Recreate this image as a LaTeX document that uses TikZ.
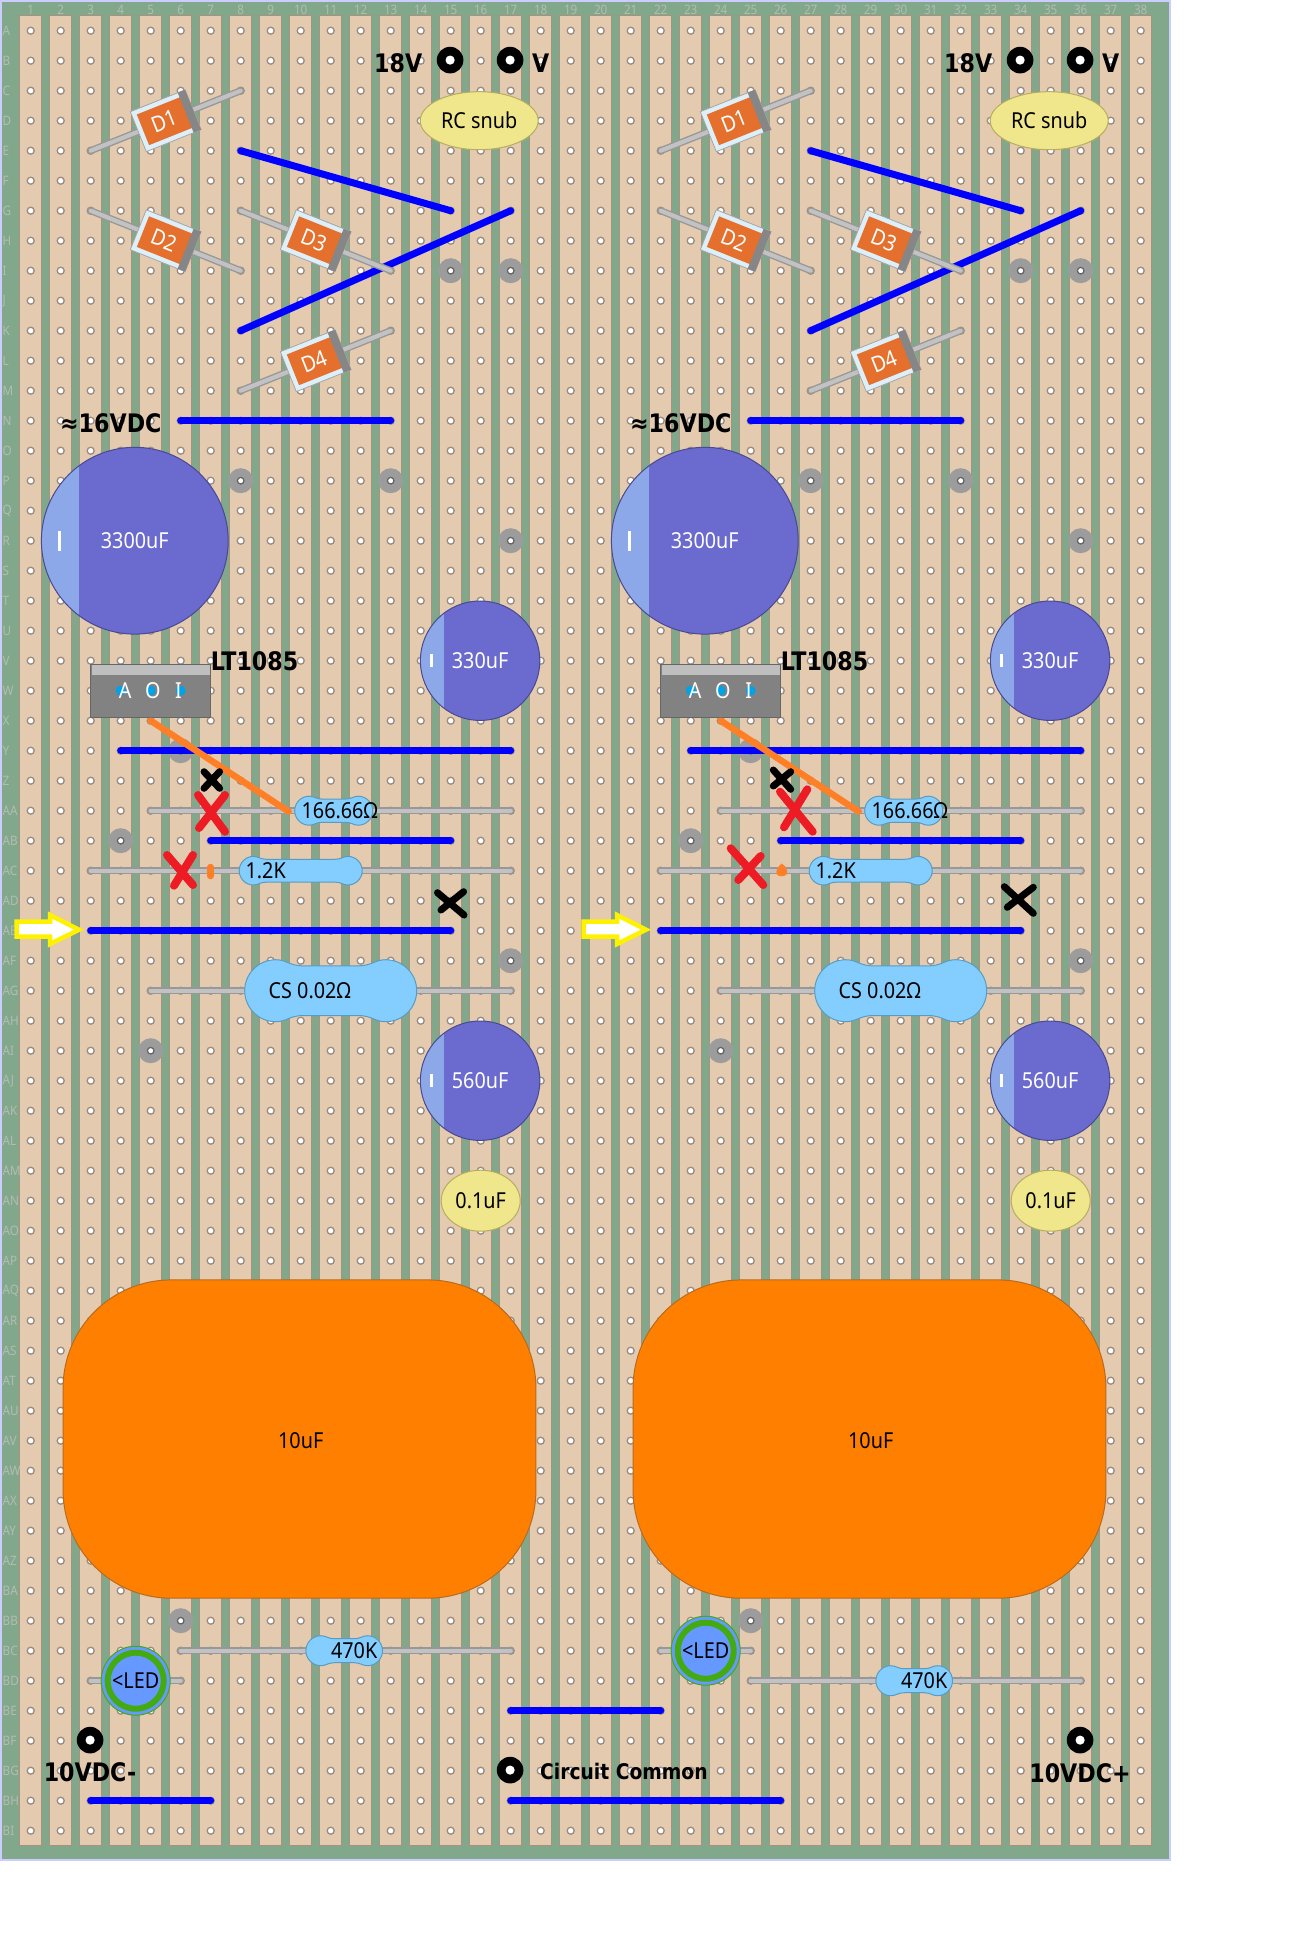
\documentclass[tikz,border=0pt]{standalone}
\usepackage{fontspec}
\usetikzlibrary{shapes.geometric}
\setmainfont[FakeStretch=0.9]{Noto Sans}
\newfontfamily\boldface[FakeStretch=0.87]{DejaVu Sans Bold}
\definecolor{boardgreen}{HTML}{82A88C}
\definecolor{stripfill}{HTML}{E4CAAF}
\definecolor{stripline}{HTML}{A8917E}
\definecolor{holeline}{HTML}{9C8B7E}
\definecolor{labelgrey}{HTML}{B2BDB2}
\definecolor{leadout}{HTML}{989898}
\definecolor{leadin}{HTML}{C2C2C2}
\definecolor{wireblue}{HTML}{0000FF}
\definecolor{wireorange}{HTML}{FF7F27}
\definecolor{xred}{HTML}{ED1C24}
\definecolor{dorange}{HTML}{E5702D}
\definecolor{dframe}{HTML}{DDF0FA}
\definecolor{capmain}{HTML}{6A6ACF}
\definecolor{caplight}{HTML}{8CA8E8}
\definecolor{capline}{HTML}{4A4A90}
\definecolor{resfill}{HTML}{84CDFF}
\definecolor{resline}{HTML}{5A9CBF}
\definecolor{snubfill}{HTML}{F0E68C}
\definecolor{snubline}{HTML}{B5AE60}
\definecolor{bigorange}{HTML}{FF8000}
\definecolor{bigline}{HTML}{B86A20}
\definecolor{ledblue}{HTML}{6699FF}
\definecolor{ledgreen}{HTML}{44AA11}
\definecolor{pincolor}{HTML}{00A2E8}
\tikzset{
  grid/.style={x=30pt,y=-30pt,shift={(0.7pt,-0.7pt)}},
  hole/.style={fill=white,draw=holeline,line width=1.3pt},
  wire/.style={draw=wireblue,line width=7pt,line cap=round},
  owire/.style={draw=wireorange,line width=6.5pt,line cap=round},
  lead/.style={draw=leadout,line width=7pt,line cap=round,postaction={draw=leadin,line width=4.2pt}},
  txt/.style={inner sep=0pt,font=\fontsize{22}{26}\selectfont},
  wtxt/.style={txt,text=white},
  btxt/.style={inner sep=0pt,font=\fontsize{25.5}{30}\boldface},
  xblack/.style={draw=black,line width=7pt,line cap=round},
  xredst/.style={draw=xred,line width=8pt,line cap=round},
  yarrow/.style={draw=yellow,fill=white,line width=4.5pt,line join=miter,miter limit=6},
}
\newcommand\padat[2]{\fill[gray!78] (#1,#2) circle[radius=12.5pt];
  \filldraw[fill=white,draw=black!60,line width=1.3pt] (#1,#2) circle[radius=3.3pt];}
\newcommand\terminal[3]{\fill[black] ([shift={(-0.6pt,0.6pt)}]#2,#3) circle[radius=13.3pt];
  \fill[white] ([shift={(-0.6pt,0.6pt)}]#2,#3) circle[radius=4.6pt];
  \coordinate (#1) at (#2,#3);}
% name, centre, angle, text
\newcommand\diodepart[4]{%
  \begin{scope}[shift={(#2)},rotate=#3,x=1pt,y=1pt]
    \filldraw[fill=dframe,draw=gray!70,line width=0.8pt] (-29.5,-21.5) rectangle (29.5,21.5);
    \fill[dorange] (-24.5,-16.5) rectangle (22,16.5);
    \fill[gray!95] (21.5,-21.5) rectangle (29.5,21.5);
    \node[wtxt,transform shape] (#1) at (-1.5,0) {#4};
  \end{scope}}
% name, centre, radius, text
\newcommand\capa[4]{%
  \begin{scope}[shift={(#2)},x=1pt,y=1pt]
    \fill[capmain] (0,0) circle[radius=#3pt];
    \begin{scope}
      \clip (0,0) circle[radius=#3pt];
      \fill[caplight] (-#3,-#3) rectangle ({-0.6*#3},#3);
    \end{scope}
    \draw[capline,line width=1pt] (0,0) circle[radius=#3pt];
    \fill[white] ({-0.81*#3-1.5},{-0.105*#3}) rectangle ({-0.81*#3+1.5},{0.105*#3});
    \node[wtxt] (#1) at (0,0) {#4};
  \end{scope}}
% name, centre, W, H, text, text offset
\newcommand\resbody[6]{%
  \begin{scope}[shift={(#2)},x=1pt,y=1pt]
    \pgfmathsetmacro\rw{#3/2}\pgfmathsetmacro\rr{#4/2}\pgfmathsetmacro\rn{0.8*\rr}
    \filldraw[fill=resfill,draw=resline,line width=1pt]
      ({\rw-\rr},\rr) arc[start angle=90,end angle=-90,radius=\rr pt]
      .. controls ({\rw-1.35*\rr},-\rr) and ({\rw-1.45*\rr},-\rn) .. ({\rw-1.9*\rr},-\rn)
      -- ({-\rw+1.9*\rr},-\rn)
      .. controls ({-\rw+1.45*\rr},-\rn) and ({-\rw+1.35*\rr},-\rr) .. ({-\rw+\rr},-\rr)
      arc[start angle=270,end angle=90,radius=\rr pt]
      .. controls ({-\rw+1.35*\rr},\rr) and ({-\rw+1.45*\rr},\rn) .. ({-\rw+1.9*\rr},\rn)
      -- ({\rw-1.9*\rr},\rn)
      .. controls ({\rw-1.45*\rr},\rn) and ({\rw-1.35*\rr},\rr) .. ({\rw-\rr},\rr) -- cycle;
    \node[txt] (#1) at (#6,0) {#5};
  \end{scope}}
% name, col, row
\newcommand\ledat[3]{%
  \path[lead] ({#2-1.5},#3) -- ({#2+1.5},#3);
  \filldraw[fill=ledblue,draw=ledgreen,line width=1pt] (#2,#3) circle[radius=34.5pt];
  \draw[ledgreen,line width=6pt] (#2,#3) circle[radius=28pt];
  \node[txt] (#1) at (#2,#3) {<LED};}
% one half of the board; #1 = name suffix
\newcommand\halfboard[1]{%
  \begin{scope}[grid]
    \foreach \pc/\pr in {15/9,17/9,8/16,13/16,17/18,6/25,4/28,17/32,5/35,6/54}{\padat{\pc}{\pr}}
    % blue links
    \draw[wire] (8,5) -- (15,7);
    \draw[wire] (8,11) -- (17,7);
    \draw[wire] (6,14) -- (13,14);
    \draw[wire] (4,25) -- (17,25);
    \draw[wire] (7,28) -- (15,28);
    \draw[wire] (3,31) -- (15,31);
    % terminals
    \terminal{ta#1}{15}{2}
    \terminal{tb#1}{17}{2}
    % RC snubber
    \node[ellipse,draw=snubline,fill=snubfill,line width=1pt,minimum width=118pt,minimum height=58pt,inner sep=0pt,
      font=\fontsize{22}{26}\selectfont] (snub#1) at (15.95,4) {RC snub};
    % diodes
    \path[lead] (3,5) -- (8,3);
    \path[lead] (3,7) -- (8,9);
    \path[lead] (8,7) -- (13,9);
    \path[lead] (8,13) -- (13,11);
    \diodepart{dA#1}{5.5,4}{21.8}{D1}
    \diodepart{dB#1}{5.5,8}{-21.8}{D2}
    \diodepart{dC#1}{10.5,8}{-21.8}{D3}
    \diodepart{dD#1}{10.5,12}{21.8}{D4}
    % capacitors
    \capa{cA#1}{4.47,18}{93.4}{3300uF}
    \capa{cB#1}{15.98,22}{59.7}{330uF}
    \capa{cC#1}{15.98,36}{59.7}{560uF}
    \node[ellipse,draw=snubline,fill=snubfill,line width=1pt,minimum width=79pt,minimum height=61pt,inner sep=0pt,
      font=\fontsize{22}{26}\selectfont] (cD#1) at (16,40) {0.1uF};
    \filldraw[fill=bigorange,draw=bigline,line width=1pt,rounded corners=108pt]
      (2.08,42.64) rectangle (17.84,53.25);
    \node[txt] (cE#1) at (10,48) {10uF};
    % regulator
    \filldraw[fill=gray!98,draw=black!60,line width=1pt] (3,22.11) rectangle (7,23.9);
    \fill[gray!50] (3.03,22.14) rectangle (6.97,22.48);
    \foreach \pc in {4,5,6}{\fill[pincolor] (\pc,23) circle[radius=5pt];}
    \node[wtxt] (pA#1) at (4.15,23) {A};
    \node[wtxt] (pO#1) at (5.07,23) {O};
    \node[wtxt] (pI#1) at (5.93,23) {I};
    % resistors
    \path[lead] (5,27) -- (17,27);
    \path[lead] (3,29) -- (17,29);
    \path[lead] (5,33) -- (17,33);
    \resbody{rA#1}{11.1,27}{78}{29}{166.66Ω}{6}
    \resbody{rB#1}{10,29}{123}{28.6}{1.2K}{-35}
    \resbody{rC#1}{11,33}{172}{62}{CS 0.02Ω}{-21}
    % orange link
    \draw[owire] (5,24) -- (9.6,27.03);
    % labels
    \node[btxt] (l18#1) at (13.25,2.07) {18V};
    \node[btxt] (lv#1) at (18,2.07) {V};
    \node[btxt] (l16#1) at (3.67,14.07) {≈16VDC};
    \node[btxt,anchor=west] (llt#1) at (7,22.02) {LT1085};
  \end{scope}}
\begin{document}
\begin{tikzpicture}[x=1pt,y=-1pt]
  \useasboundingbox (0,0) rectangle (1297,1947);
  \fill[white] (0,0) rectangle (1297,1947);
  \filldraw[fill=boardgreen,draw=blue!20,line width=1.5pt] (1,1) rectangle (1170,1860);
  \begin{scope}[grid]
    \foreach \c in {1,...,38}{
      \filldraw[fill=stripfill,draw=stripline,line width=1.2pt]
        (\c-0.37,0.5) rectangle (\c+0.37,61.48);
      \node[text=labelgrey,inner sep=0pt,font=\fontsize{13}{15}\selectfont] (col\c) at (\c,0.31) {\c};
      \foreach \r in {1,...,61}{\filldraw[hole] (\c,\r) circle[radius=3.5pt];}
    }
    \foreach \l [count=\r] in {A,B,C,D,E,F,G,H,I,J,K,L,M,N,O,P,Q,R,S,T,U,V,W,X,Y,Z,
      AA,AB,AC,AD,AE,AF,AG,AH,AI,AJ,AK,AL,AM,AN,AO,AP,AQ,AR,AS,AT,AU,AV,AW,AX,AY,AZ,
      BA,BB,BC,BD,BE,BF,BG,BH,BI}{
      \node[text=labelgrey,anchor=west,inner sep=0pt,font=\fontsize{13}{15}\selectfont] (row\r) at (0.06,\r) {\l};
    }
  \end{scope}
  \halfboard{L}
  \begin{scope}[xshift=570pt]
    \halfboard{R}
  \end{scope}
  % parts that differ between the halves and the shared lower area
  \begin{scope}[grid]
    \draw[wire] (17,57) -- (22,57);
    \draw[wire] (3,60) -- (7,60);
    \draw[wire] (17,60) -- (26,60);
    \path[lead] (6,55) -- (17,55);
    \resbody{rDL}{11.45,55}{76.6}{30}{470K}{10}
    \path[lead] (25,56) -- (36,56);
    \resbody{rDR}{30.45,56}{76.6}{30}{470K}{10}
    \ledat{ledL}{4.5}{56}
    \ledat{ledR}{23.5}{55}
    \terminal{tc}{3}{58}
    \terminal{td}{17}{59}
    \terminal{te}{36}{58}
  \end{scope}
  \node[btxt] (vminus) at (90,1772) {10VDC-};
  \node[btxt] (vplus) at (1080,1772.7) {10VDC+};
  \node[inner sep=0pt,anchor=west,font=\fontsize{21.5}{25}\boldface] (common) at (540,1771.7) {Circuit Common};
  % input arrows
  \draw[yarrow] (16.5,921.5) -- (50,921.5) -- (50,915) -- (79,929.7) -- (50,944) -- (50,936.5) -- (16.5,936.5) -- cycle;
  \begin{scope}[xshift=567pt]
    \draw[yarrow] (16.5,921.5) -- (50,921.5) -- (50,915) -- (79,929.7) -- (50,944) -- (50,936.5) -- (16.5,936.5) -- cycle;
  \end{scope}
  % orange stubs
  \draw[draw=wireorange,line width=6.5pt,line cap=round] (210.7,867) -- (210.7,876);
  \fill[wireorange] (781.7,863.5) .. controls (786,866) and (788,871) .. (787,874)
     .. controls (785,877) and (778,877) .. (776.5,874) .. controls (775.5,871) and (778,866) .. (781.7,863.5) -- cycle;
  % crosses, left
  \draw[xblack] (204,771.7) -- (219.6,788.3) (219.6,771.7) -- (204,788.3);
  \draw[xredst] (198,795) -- (225,831.7) (225,795) -- (199,828);
  \draw[xredst] (167,855) -- (193,885) (193,855) -- (174,885.7);
  \draw[xblack] (437.5,892.7) -- (464,915) (463.6,891.7) -- (441,910);
  % crosses, right
  \draw[xblack] (773.3,770) -- (790.7,789.3) (790.7,771.7) -- (773.3,786);
  \draw[xredst] (780,791.7) -- (812.7,831.7) (807.3,789.3) -- (784,827.3);
  \draw[xredst] (730.7,848.3) -- (763.3,885) (760.7,856) -- (738.3,880);
  \draw[xblack] (1004.3,886.7) -- (1033.3,913.3) (1033.3,887.3) -- (1007.3,907.3);
\end{tikzpicture}
\end{document}
